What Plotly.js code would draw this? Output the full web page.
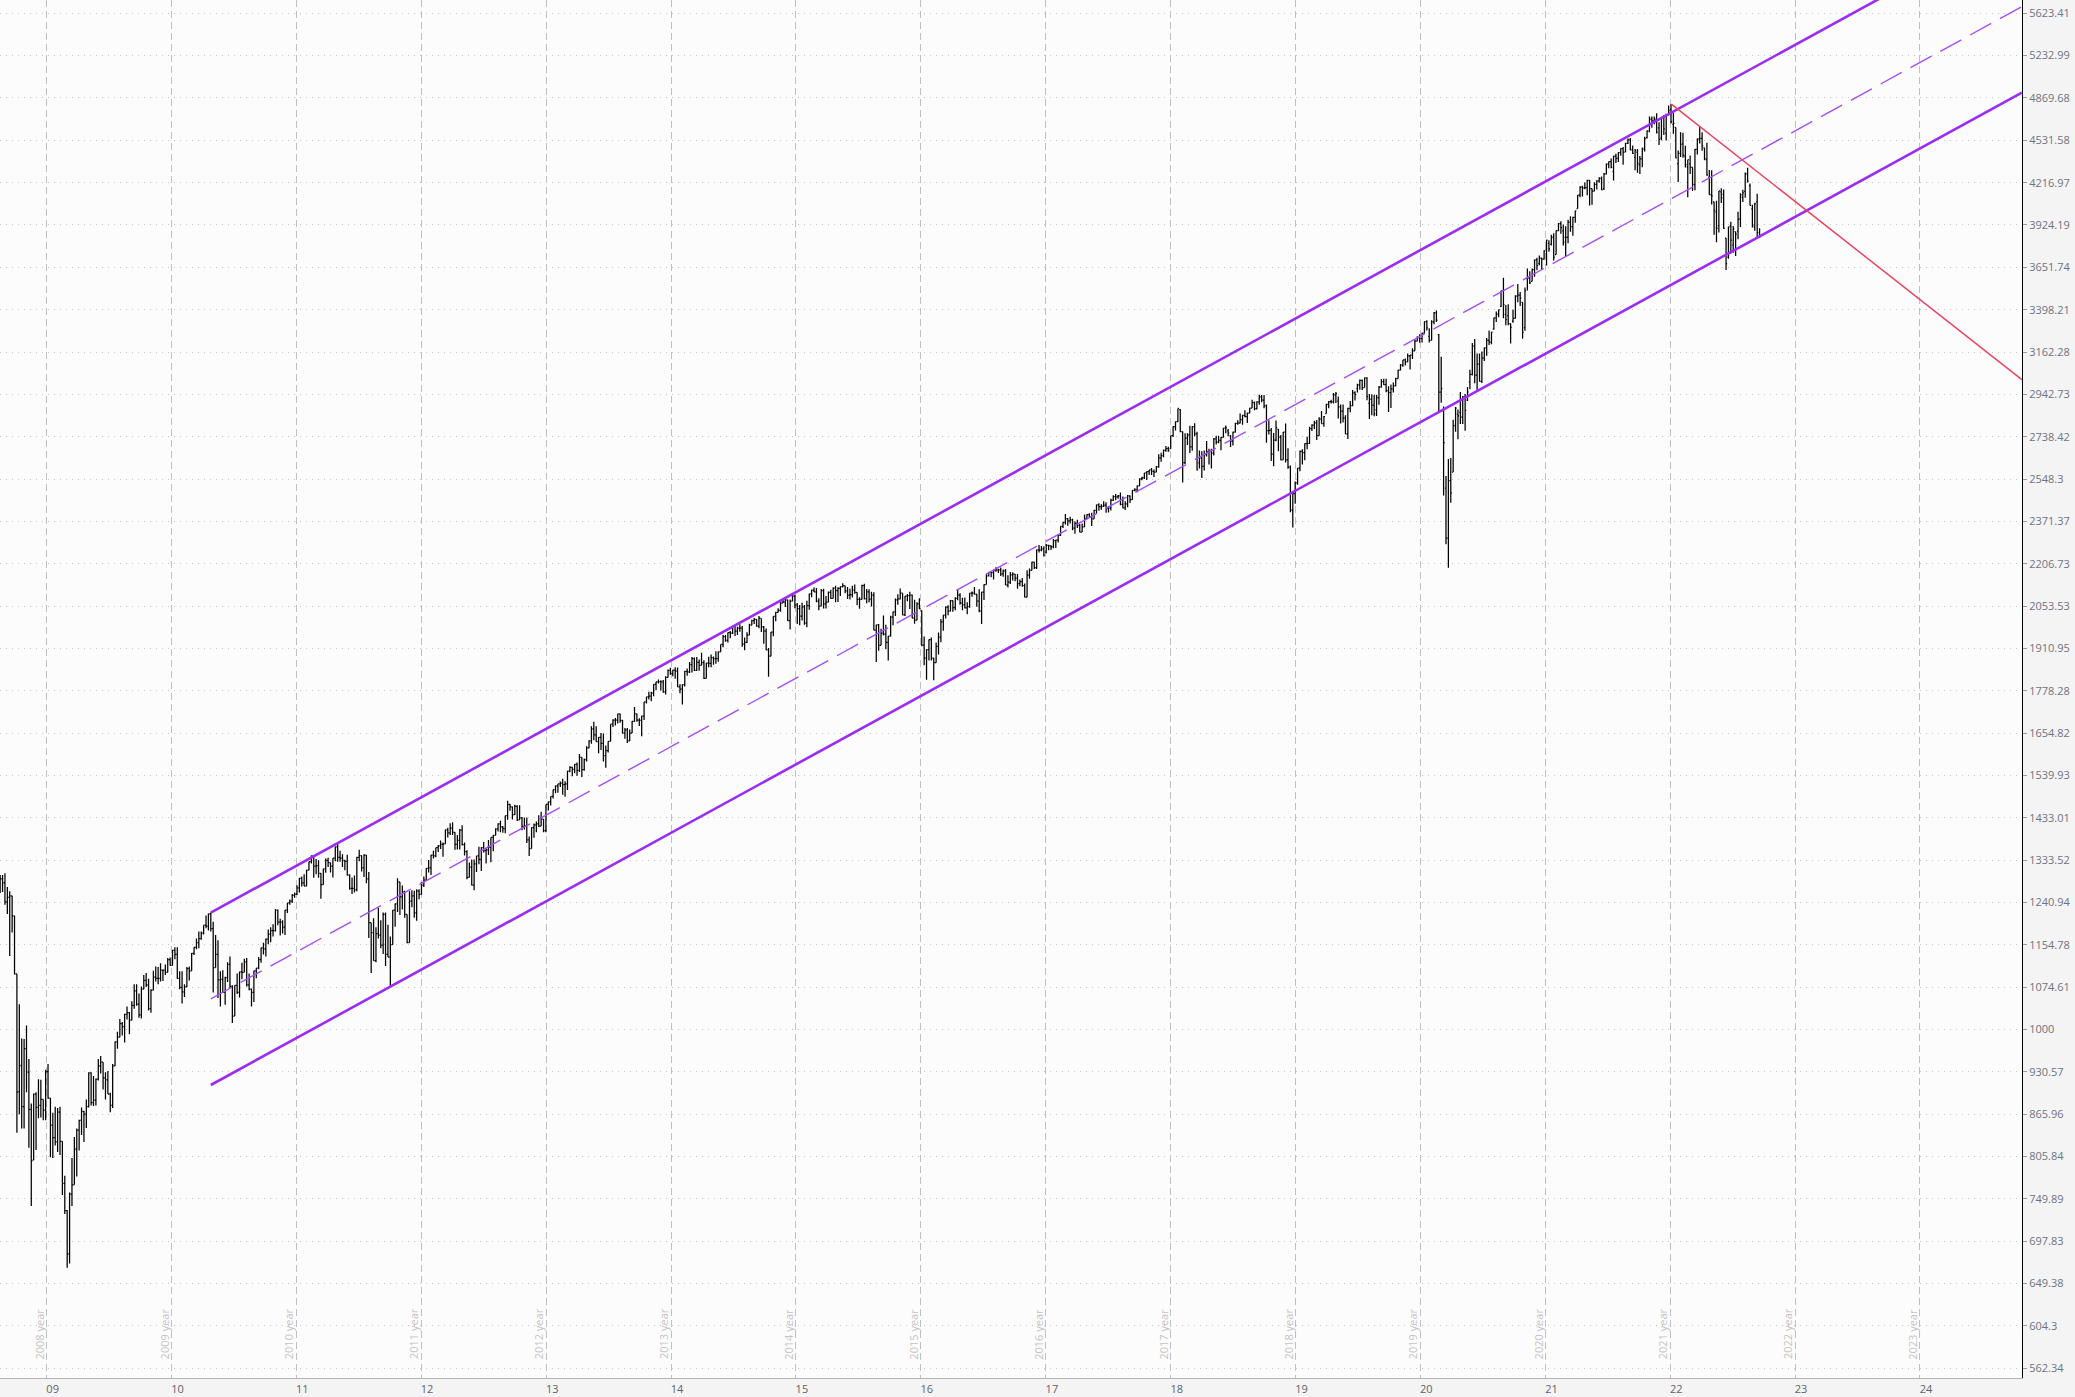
<!DOCTYPE html>
<html><head><meta charset="utf-8">
<script src="https://cdn.plot.ly/plotly-3.0.1.min.js"></script>
<style>html,body{margin:0;padding:0;background:#f4f4f4}#chart{width:2075px;height:1397px}</style>
</head><body><div id="chart"></div>
<script>
// Weekly S&P 500 bars, [open, high, low, close], one row per week (weeks start Monday)
const firstWeek = [2008, 7, 11]; // 2008-08-11
const wk2008 = [[1296,1313,1283,1298],[1298,1300,1261,1292],[1292,1300,1263,1283],[1283,1304,1236,1242],[1242,1274,1217,1252],[1252,1265,1133,1255],[1255,1255,1179,1213],[1213,1213,1098,1099],[1099,1099,839,899],[900,1044,866,940],[941,985,845,877],[877,984,845,968],[968,1007,899,930],[930,951,818,873],[873,882,741,800],[801,897,801,896],[896,899,815,876],[876,919,860,879],[879,918,861,888],[888,888,857,872],[872,934,857,931]];
const wk2009 = [[931,943,889,890],[890,890,805,850],[850,868,804,832],[832,877,821,826],[826,875,812,869],[869,877,808,827],[827,827,755,770],[770,780,731,735],[735,736,667,683],[683,758,672,756],[756,804,741,768],[768,833,768,816],[816,845,779,843],[843,858,814,857],[857,876,836,870],[870,871,826,866],[866,888,846,877],[877,930,876,929],[929,930,879,883],[883,924,878,887],[887,920,879,919],[919,951,917,940],[940,956,928,946],[946,946,903,921],[921,930,888,918],[918,932,896,896],[896,898,869,879],[879,943,875,940],[940,980,940,979],[979,996,968,987],[987,1018,987,1010],[1010,1013,990,1005],[1005,1027,978,1026],[1026,1040,1017,1029],[1029,1030,992,1016],[1016,1049,1016,1042],[1042,1080,1036,1068],[1068,1080,1041,1044],[1044,1063,1020,1025],[1025,1076,1019,1071],[1071,1097,1071,1087],[1087,1101,1075,1079],[1079,1090,1033,1036],[1036,1071,1029,1069],[1069,1105,1069,1093],[1093,1113,1085,1091],[1091,1112,1080,1091],[1091,1119,1085,1106],[1106,1107,1086,1106],[1106,1117,1097,1102],[1102,1129,1102,1126],[1126,1130,1115,1115]];
const wk2010 = [[1115,1145,1115,1144],[1144,1150,1127,1136],[1136,1150,1090,1091],[1091,1104,1071,1074],[1074,1104,1045,1066],[1066,1080,1057,1075],[1075,1112,1075,1109],[1109,1113,1087,1105],[1105,1139,1105,1138],[1138,1150,1135,1150],[1150,1167,1146,1159],[1159,1181,1148,1167],[1167,1181,1165,1178],[1178,1194,1175,1194],[1194,1214,1188,1192],[1192,1218,1183,1217],[1217,1220,1181,1187],[1187,1201,1065,1111],[1111,1174,1111,1136],[1136,1164,1055,1088],[1088,1104,1040,1089],[1089,1106,1065,1065],[1065,1094,1043,1092],[1092,1121,1084,1117],[1117,1132,1073,1076],[1076,1078,1011,1023],[1023,1078,1023,1078],[1078,1100,1062,1065],[1065,1103,1056,1103],[1103,1120,1089,1102],[1102,1128,1102,1122],[1122,1129,1076,1079],[1079,1100,1069,1071],[1071,1072,1040,1065],[1065,1105,1048,1105],[1105,1110,1091,1110],[1110,1131,1108,1126],[1126,1149,1120,1149],[1149,1159,1136,1147],[1147,1167,1132,1166],[1166,1185,1156,1176],[1176,1190,1160,1183],[1183,1196,1171,1183],[1183,1227,1181,1225],[1225,1226,1194,1200],[1200,1207,1173,1200],[1200,1204,1177,1190],[1190,1225,1174,1225],[1225,1240,1219,1240],[1240,1247,1236,1244],[1244,1259,1240,1256],[1256,1262,1251,1258]];
const wk2011 = [[1258,1278,1257,1272],[1272,1294,1262,1293],[1293,1297,1275,1283],[1283,1302,1276,1276],[1276,1312,1276,1311],[1311,1330,1311,1330],[1330,1344,1326,1343],[1343,1343,1294,1320],[1320,1336,1302,1321],[1321,1333,1294,1304],[1304,1304,1249,1279],[1279,1314,1279,1314],[1314,1337,1305,1333],[1333,1339,1318,1328],[1328,1328,1306,1320],[1320,1338,1295,1338],[1338,1364,1331,1364],[1364,1371,1330,1340],[1340,1355,1330,1338],[1338,1347,1318,1333],[1333,1334,1311,1331],[1331,1346,1299,1300],[1300,1302,1268,1271],[1271,1295,1259,1271],[1271,1299,1262,1268],[1268,1341,1265,1340],[1340,1357,1331,1344],[1344,1344,1308,1316],[1316,1347,1296,1345],[1345,1345,1282,1292],[1292,1307,1168,1199],[1199,1199,1101,1179],[1179,1208,1124,1124],[1124,1190,1121,1177],[1177,1230,1167,1174],[1174,1204,1148,1154],[1154,1220,1137,1216],[1216,1220,1114,1136],[1136,1195,1131,1131],[1131,1171,1075,1155],[1155,1225,1155,1225],[1225,1239,1191,1238],[1238,1293,1221,1285],[1285,1285,1215,1253],[1253,1277,1226,1264],[1264,1266,1209,1216],[1216,1216,1158,1159],[1159,1265,1159,1244],[1244,1267,1231,1255],[1255,1266,1209,1219],[1219,1269,1203,1265],[1265,1269,1248,1258]];
const wk2012 = [[1258,1285,1258,1278],[1278,1297,1274,1289],[1289,1315,1289,1315],[1315,1334,1306,1316],[1316,1345,1300,1345],[1345,1355,1337,1343],[1343,1362,1340,1362],[1362,1368,1352,1366],[1366,1379,1359,1370],[1370,1374,1341,1371],[1371,1405,1371,1404],[1404,1409,1386,1397],[1397,1420,1392,1408],[1408,1422,1392,1398],[1398,1398,1357,1370],[1370,1392,1358,1379],[1379,1406,1358,1403],[1403,1415,1367,1369],[1369,1374,1344,1353],[1353,1356,1291,1295],[1295,1328,1295,1318],[1318,1335,1277,1278],[1278,1335,1267,1325],[1325,1343,1307,1343],[1343,1364,1324,1335],[1335,1363,1309,1362],[1362,1375,1351,1355],[1355,1361,1326,1357],[1357,1380,1345,1363],[1363,1386,1329,1386],[1386,1392,1354,1391],[1391,1408,1391,1406],[1406,1420,1400,1418],[1418,1426,1398,1411],[1411,1413,1397,1407],[1407,1438,1396,1438],[1438,1475,1428,1466],[1466,1467,1450,1460],[1460,1461,1429,1441],[1441,1465,1440,1461],[1461,1464,1425,1428],[1428,1464,1428,1433],[1433,1435,1403,1412],[1412,1434,1405,1414],[1414,1434,1373,1380],[1380,1388,1343,1360],[1360,1410,1360,1409],[1409,1419,1385,1416],[1416,1424,1398,1418],[1418,1439,1411,1413],[1413,1448,1413,1430],[1430,1430,1398,1402],[1402,1466,1398,1466]];
const wk2013 = [[1466,1473,1451,1472],[1472,1486,1463,1486],[1486,1503,1481,1503],[1503,1514,1494,1513],[1513,1518,1495,1518],[1518,1524,1510,1520],[1520,1531,1490,1516],[1516,1525,1485,1518],[1518,1552,1502,1551],[1551,1564,1548,1561],[1561,1563,1538,1556],[1556,1570,1546,1569],[1569,1574,1539,1553],[1553,1597,1549,1588],[1588,1588,1536,1555],[1555,1585,1552,1582],[1582,1618,1577,1614],[1614,1635,1613,1633],[1633,1674,1625,1667],[1667,1687,1635,1650],[1650,1674,1631,1631],[1631,1644,1599,1643],[1643,1655,1608,1626],[1626,1654,1577,1593],[1593,1620,1560,1606],[1606,1632,1601,1632],[1632,1680,1632,1680],[1680,1694,1672,1692],[1692,1698,1676,1692],[1692,1710,1682,1710],[1710,1710,1684,1691],[1691,1692,1654,1655],[1655,1669,1639,1664],[1664,1669,1627,1633],[1633,1665,1633,1655],[1655,1689,1655,1688],[1688,1730,1687,1710],[1710,1711,1687,1692],[1692,1697,1675,1691],[1691,1704,1646,1703],[1703,1745,1692,1745],[1745,1760,1740,1760],[1760,1775,1752,1762],[1762,1775,1747,1771],[1771,1798,1762,1798],[1798,1806,1780,1805],[1805,1813,1800,1806],[1806,1810,1779,1805],[1805,1811,1772,1775],[1775,1823,1767,1819],[1819,1844,1819,1841],[1841,1849,1827,1831]];
const wk2014 = [[1831,1843,1823,1842],[1842,1851,1815,1839],[1839,1850,1790,1790],[1790,1798,1771,1783],[1783,1798,1737,1797],[1797,1840,1791,1838],[1838,1847,1824,1836],[1836,1867,1833,1859],[1859,1883,1834,1878],[1878,1882,1839,1841],[1841,1883,1839,1866],[1866,1875,1840,1857],[1857,1897,1857,1865],[1865,1873,1814,1816],[1816,1865,1816,1864],[1864,1884,1851,1863],[1863,1891,1851,1881],[1881,1885,1859,1878],[1878,1902,1862,1878],[1878,1901,1868,1900],[1900,1924,1900,1924],[1924,1955,1915,1950],[1950,1955,1933,1937],[1937,1963,1930,1963],[1963,1968,1944,1961],[1961,1985,1958,1985],[1985,1985,1952,1968],[1968,1983,1955,1978],[1978,1991,1966,1978],[1978,1985,1916,1925],[1925,1947,1905,1931],[1931,1964,1929,1955],[1955,1993,1955,1988],[1988,2006,1988,2003],[2003,2012,1992,2008],[2008,2008,1983,1985],[1985,2019,1978,2011],[2011,2011,1965,1982],[1982,1985,1926,1968],[1968,1977,1906,1906],[1906,1912,1821,1886],[1886,1965,1886,1965],[1965,2018,1951,2018],[2018,2034,2001,2032],[2032,2046,2031,2039],[2039,2071,2034,2064],[2064,2076,2064,2068],[2068,2079,2050,2075],[2075,2076,2002,2003],[2003,2077,1973,2071],[2071,2094,2070,2089],[2089,2093,2046,2058]];
const wk2015 = [[2058,2064,1992,2045],[2045,2057,1988,2019],[2019,2065,2004,2051],[2051,2057,1989,1995],[1995,2072,1981,2055],[2055,2097,2041,2097],[2097,2111,2085,2110],[2110,2119,2103,2104],[2104,2118,2067,2071],[2071,2081,2039,2053],[2053,2114,2053,2108],[2108,2115,2045,2061],[2061,2089,2045,2067],[2067,2105,2067,2102],[2102,2111,2079,2081],[2081,2120,2081,2117],[2117,2126,2067,2108],[2108,2120,2068,2116],[2116,2123,2089,2123],[2123,2135,2119,2126],[2126,2126,2099,2107],[2107,2121,2078,2092],[2092,2115,2077,2094],[2094,2126,2084,2110],[2110,2130,2097,2102],[2102,2102,2056,2077],[2077,2085,2044,2077],[2077,2129,2077,2126],[2126,2133,2077,2080],[2080,2114,2063,2104],[2104,2113,2067,2078],[2078,2104,2052,2092],[2092,2102,1971,1971],[1971,1989,1867,1989],[1989,1992,1903,1921],[1921,1976,1921,1961],[1961,2021,1953,1958],[1958,1989,1908,1931],[1931,1952,1872,1951],[1951,2020,1950,2015],[2015,2034,1988,2033],[2033,2080,2019,2075],[2075,2095,2058,2079],[2079,2116,2077,2099],[2099,2099,2022,2023],[2023,2089,2019,2089],[2089,2096,2070,2090],[2090,2104,2043,2092],[2092,2094,2012,2012],[2012,2076,1993,2005],[2005,2067,2005,2061],[2061,2081,2043,2044]];
const wk2016 = [[2038,2038,1918,1922],[1922,1950,1857,1880],[1880,1908,1812,1907],[1907,1940,1872,1940],[1940,1947,1872,1880],[1880,1881,1810,1865],[1865,1930,1865,1918],[1918,1963,1891,1948],[1948,2009,1931,1999],[1999,2022,1969,2022],[2022,2053,2011,2050],[2050,2056,2022,2036],[2036,2075,2035,2073],[2073,2073,2034,2048],[2048,2085,2039,2081],[2081,2111,2074,2092],[2092,2099,2058,2065],[2065,2083,2039,2058],[2058,2084,2045,2047],[2047,2067,2025,2052],[2052,2100,2048,2099],[2099,2105,2086,2099],[2099,2121,2093,2096],[2096,2096,2051,2071],[2071,2113,2032,2037],[2037,2104,1992,2103],[2103,2131,2075,2130],[2130,2169,2130,2162],[2162,2176,2159,2175],[2175,2177,2157,2174],[2174,2183,2148,2183],[2183,2194,2177,2184],[2184,2188,2172,2184],[2184,2193,2161,2169],[2169,2185,2158,2180],[2180,2187,2128,2128],[2128,2164,2119,2139],[2139,2176,2132,2165],[2165,2175,2145,2168],[2168,2169,2142,2153],[2153,2169,2115,2133],[2133,2148,2124,2141],[2141,2154,2122,2126],[2126,2134,2084,2085],[2085,2182,2085,2164],[2164,2189,2151,2182],[2182,2214,2182,2213],[2213,2214,2187,2192],[2192,2260,2187,2259],[2259,2278,2249,2258],[2258,2274,2254,2263],[2263,2273,2234,2239]];
const wk2017 = [[2251,2282,2245,2277],[2277,2279,2258,2275],[2275,2277,2259,2271],[2271,2301,2266,2295],[2295,2299,2267,2297],[2297,2319,2288,2316],[2316,2352,2313,2351],[2351,2368,2345,2367],[2367,2401,2359,2383],[2383,2385,2354,2373],[2373,2390,2363,2378],[2378,2382,2336,2344],[2344,2371,2322,2363],[2363,2378,2345,2355],[2355,2361,2328,2329],[2329,2363,2329,2349],[2349,2399,2349,2384],[2384,2400,2380,2399],[2399,2404,2386,2391],[2391,2406,2353,2382],[2382,2418,2382,2416],[2416,2440,2403,2439],[2439,2446,2415,2432],[2432,2441,2419,2433],[2433,2454,2430,2438],[2438,2450,2406,2423],[2423,2434,2407,2425],[2425,2464,2416,2459],[2459,2479,2455,2473],[2473,2484,2458,2472],[2472,2480,2464,2477],[2477,2491,2437,2441],[2441,2474,2425,2426],[2426,2454,2418,2443],[2443,2480,2429,2477],[2477,2478,2447,2461],[2461,2501,2460,2500],[2500,2509,2496,2502],[2502,2520,2492,2519],[2519,2552,2518,2549],[2549,2558,2543,2553],[2553,2575,2548,2575],[2575,2582,2544,2581],[2581,2588,2566,2588],[2588,2597,2566,2582],[2582,2590,2557,2579],[2579,2605,2578,2602],[2602,2658,2598,2642],[2642,2665,2624,2652],[2652,2680,2645,2675],[2675,2695,2669,2683],[2683,2692,2669,2674]];
const wk2018 = [[2683,2743,2683,2743],[2743,2787,2737,2786],[2786,2810,2768,2810],[2810,2873,2808,2873],[2867,2870,2759,2762],[2762,2763,2533,2620],[2620,2754,2614,2732],[2732,2755,2700,2747],[2747,2790,2664,2691],[2691,2787,2674,2786],[2786,2802,2741,2752],[2752,2761,2586,2588],[2619,2675,2594,2641],[2641,2672,2553,2604],[2604,2675,2586,2656],[2656,2718,2648,2670],[2670,2683,2612,2670],[2670,2683,2594,2663],[2663,2732,2652,2728],[2728,2743,2702,2713],[2713,2743,2708,2721],[2721,2737,2676,2735],[2735,2779,2735,2779],[2779,2791,2754,2780],[2766,2775,2740,2755],[2742,2746,2691,2718],[2718,2761,2698,2760],[2760,2804,2758,2801],[2801,2816,2795,2802],[2802,2848,2800,2819],[2819,2841,2795,2840],[2840,2864,2830,2833],[2833,2854,2803,2850],[2850,2877,2850,2875],[2875,2916,2875,2902],[2902,2907,2864,2872],[2872,2908,2868,2905],[2905,2941,2891,2930],[2930,2940,2904,2914],[2914,2940,2874,2886],[2886,2893,2710,2767],[2767,2816,2749,2768],[2768,2779,2628,2659],[2659,2756,2604,2723],[2723,2815,2717,2781],[2773,2775,2671,2736],[2736,2746,2631,2633],[2633,2760,2633,2760],[2760,2800,2621,2633],[2633,2685,2593,2600],[2600,2608,2409,2417],[2417,2488,2347,2486],[2486,2538,2444,2532]];
const wk2019 = [[2532,2597,2524,2596],[2596,2675,2582,2671],[2671,2681,2612,2665],[2665,2708,2631,2707],[2707,2738,2681,2708],[2708,2785,2705,2776],[2776,2797,2765,2793],[2793,2814,2774,2804],[2804,2817,2723,2743],[2743,2831,2743,2822],[2822,2861,2800,2800],[2800,2836,2785,2834],[2848,2896,2848,2893],[2893,2910,2874,2907],[2907,2916,2898,2905],[2905,2949,2898,2940],[2940,2954,2900,2946],[2909,2932,2825,2881],[2881,2892,2801,2860],[2860,2892,2805,2826],[2826,2840,2750,2752],[2752,2876,2728,2873],[2873,2910,2855,2887],[2887,2964,2884,2950],[2950,2958,2912,2942],[2971,2996,2952,2990],[2990,3018,2966,3014],[3014,3018,2964,2977],[2977,3028,2977,3026],[3026,3029,2914,2932],[2898,2945,2822,2919],[2919,2943,2840,2889],[2889,2940,2835,2847],[2866,2941,2836,2926],[2926,2985,2891,2979],[2979,3021,2977,3007],[3007,3022,2990,2992],[2992,3022,2953,2962],[2962,2983,2856,2952],[2952,2993,2875,2970],[2970,3003,2952,2986],[2986,3027,2984,3023],[3023,3069,3023,3067],[3067,3098,3066,3093],[3093,3120,3084,3120],[3120,3128,3091,3110],[3110,3154,3110,3141],[3141,3146,3070,3146],[3146,3182,3125,3169],[3169,3229,3169,3221],[3221,3248,3221,3240],[3240,3259,3212,3235]];
const wk2020 = [[3235,3267,3214,3265],[3265,3330,3264,3330],[3330,3338,3280,3295],[3248,3293,3214,3226],[3226,3337,3226,3328],[3328,3385,3315,3380],[3380,3394,3328,3338],[3257,3260,2855,2954],[2954,3137,2901,2972],[2863,2883,2478,2711],[2509,2562,2281,2305],[2305,2637,2192,2541],[2541,2641,2448,2489],[2579,2818,2579,2790],[2790,2880,2761,2875],[2846,2868,2727,2837],[2854,2955,2798,2831],[2831,2934,2798,2930],[2930,2945,2766,2864],[2914,2980,2910,2955],[3005,3068,2969,3044],[3044,3211,3038,3194],[3194,3233,2999,3041],[3041,3155,2965,3098],[3098,3155,3008,3009],[3009,3165,3000,3130],[3130,3186,3115,3185],[3185,3238,3142,3225],[3225,3280,3200,3216],[3216,3272,3204,3271],[3288,3352,3284,3351],[3351,3388,3328,3373],[3373,3399,3355,3397],[3418,3509,3413,3508],[3508,3588,3349,3427],[3371,3425,3310,3341],[3364,3429,3310,3319],[3319,3320,3209,3298],[3333,3398,3323,3348],[3348,3482,3348,3477],[3477,3550,3441,3483],[3483,3502,3419,3465],[3441,3441,3234,3270],[3296,3529,3279,3509],[3583,3645,3511,3585],[3585,3628,3550,3557],[3566,3644,3566,3638],[3638,3701,3594,3699],[3699,3712,3634,3663],[3675,3726,3665,3709],[3709,3712,3636,3703],[3703,3760,3700,3756]];
const wk2021 = [[3764,3827,3663,3824],[3803,3823,3750,3768],[3797,3860,3790,3841],[3844,3870,3694,3714],[3732,3887,3732,3887],[3887,3937,3883,3934],[3934,3950,3866,3907],[3885,3928,3789,3811],[3842,3915,3723,3842],[3842,3960,3805,3943],[3943,3983,3879,3913],[3913,3979,3853,3975],[3975,4020,3939,4020],[4035,4130,4035,4129],[4129,4191,4114,4185],[4185,4195,4118,4180],[4180,4218,4170,4181],[4181,4238,4128,4233],[4233,4236,4057,4174],[4174,4175,4062,4156],[4156,4219,4156,4204],[4204,4234,4168,4230],[4230,4255,4217,4247],[4247,4262,4165,4166],[4174,4286,4165,4281],[4281,4356,4275,4352],[4352,4372,4321,4370],[4370,4394,4321,4327],[4297,4415,4233,4412],[4412,4430,4360,4395],[4395,4441,4367,4437],[4437,4470,4414,4468],[4468,4480,4347,4442],[4442,4513,4442,4509],[4509,4546,4504,4535],[4535,4549,4455,4459],[4459,4492,4427,4433],[4403,4465,4306,4455],[4442,4466,4288,4357],[4348,4412,4279,4391],[4391,4475,4329,4471],[4463,4560,4447,4545],[4553,4608,4545,4605],[4605,4718,4595,4697],[4697,4719,4630,4683],[4683,4718,4657,4698],[4698,4744,4585,4595],[4628,4673,4495,4538],[4548,4713,4532,4712],[4710,4731,4572,4620],[4588,4740,4531,4726],[4733,4808,4726,4766]];
const wk2022 = [[4778,4819,4662,4677],[4655,4749,4582,4663],[4632,4632,4395,4398],[4356,4453,4222,4432],[4432,4595,4405,4500],[4505,4590,4400,4419],[4412,4490,4327,4349],[4332,4385,4114,4385],[4354,4416,4279,4329],[4328,4328,4157,4204],[4202,4466,4162,4463],[4463,4546,4424,4543],[4541,4637,4507,4546],[4547,4594,4451,4488],[4474,4475,4381,4392],[4385,4512,4267,4272],[4255,4308,4131,4132],[4131,4307,4063,4123],[4082,4082,3859,4024],[4013,4090,3810,3901],[3920,4158,3875,4158],[4152,4177,4074,4109],[4134,4168,3900,3901],[3838,3838,3636,3675],[3715,3913,3705,3912],[3920,3946,3738,3825],[3792,3918,3743,3899],[3880,3880,3722,3863],[3883,4013,3830,3962],[3965,4141,3911,4130],[4112,4167,4080,4145],[4155,4290,4111,4280],[4280,4325,4218,4228],[4195,4211,4057,4058],[4034,4062,3907,3924],[3910,4076,3886,4067],[4083,4139,3837,3873],[3849,3902,3838,3856]];

// Axis labels
const yTickLabels = ['562.34','604.3','649.38','697.83','749.89','805.84','865.96','930.57','1000','1074.61','1154.78','1240.94','1333.52','1433.01','1539.93','1654.82','1778.28','1910.95','2053.53','2206.73','2371.37','2548.3','2738.42','2942.73','3162.28','3398.21','3651.74','3924.19','4216.97','4531.58','4869.68','5232.99','5623.41'];
const xTickYears = ['2009','2010','2011','2012','2013','2014','2015','2016','2017','2018','2019','2020','2021','2022','2023','2024'];
const xTickLabels = ['09','10','11','12','13','14','15','16','17','18','19','20','21','22','23','24'];
const yearNames = ['2008 year','2009 year','2010 year','2011 year','2012 year','2013 year','2014 year','2015 year','2016 year','2017 year','2018 year','2019 year','2020 year','2021 year','2022 year','2023 year'];

// Trend channel (date, price) endpoints
const channelDates = ['2010-04-26', '2024-10-25'];
const channelUpper = [1219.8, 6582];
const channelMid = [1053.6, 5687];
const channelLower = [910, 4914];
const redDates = ['2022-01-04', '2024-10-25'];
const redPrices = [4818.6, 3017];

const bars = [].concat(wk2008, wk2009, wk2010, wk2011, wk2012, wk2013, wk2014, wk2015, wk2016, wk2017, wk2018, wk2019, wk2020, wk2021, wk2022);
const t0 = Date.UTC(firstWeek[0], firstWeek[1], firstWeek[2]);
const dates = bars.map((_, i) => new Date(t0 + i * 7 * 86400000).toISOString().slice(0, 10));

const traces = [
  {type: 'ohlc', x: dates,
   open: bars.map(b => b[0]), high: bars.map(b => b[1]), low: bars.map(b => b[2]), close: bars.map(b => b[3]),
   increasing: {line: {color: '#000000', width: 1.25}}, decreasing: {line: {color: '#000000', width: 1.25}},
   tickwidth: 0.45, hoverinfo: 'skip'},
  {type: 'scatter', mode: 'lines', x: channelDates, y: channelUpper, line: {color: '#9a2cf5', width: 2.6}, hoverinfo: 'skip'},
  {type: 'scatter', mode: 'lines', x: channelDates, y: channelLower, line: {color: '#9a2cf5', width: 2.6}, hoverinfo: 'skip'},
  {type: 'scatter', mode: 'lines', x: channelDates, y: channelMid, line: {color: '#a64df5', width: 1.4, dash: '24px,10px'}, hoverinfo: 'skip'},
  {type: 'scatter', mode: 'lines', x: redDates, y: redPrices, line: {color: '#e8455c', width: 1.5}, hoverinfo: 'skip'}
];

const layout = {
  width: 2075, height: 1397,
  margin: {l: 0, r: 53, t: 0, b: 19, pad: 0},
  paper_bgcolor: '#f4f4f4', plot_bgcolor: '#fcfcfc',
  showlegend: false, hovermode: false,
  font: {family: 'Open Sans, sans-serif', size: 11, color: '#6f7282'},
  xaxis: {
    type: 'date', range: ['2008-08-17 13:00', '2024-10-25 10:00'],
    rangeslider: {visible: false},
    tickmode: 'array', tickvals: xTickYears.map(y => y + '-01-01'), ticktext: xTickLabels,
    showgrid: true, gridcolor: '#c0c0c0', gridwidth: 1, griddash: '7px,4px',
    ticks: '', showline: true, linecolor: '#b5b5b5', linewidth: 1, zeroline: false,
    ticklabelshift: 6, ticklabelstandoff: 1,
    tickfont: {family: 'Open Sans, sans-serif', size: 11, color: '#5f626e'}
  },
  yaxis: {
    type: 'log', side: 'right', range: [2.7428, 3.7598],
    tickmode: 'array', tickvals: yTickLabels.map(Number), ticktext: yTickLabels,
    showgrid: true, gridcolor: '#c6c6c6', gridwidth: 1, griddash: '1px,5px',
    ticks: 'outside', ticklen: 4, tickcolor: '#9a9a9a', tickwidth: 1,
    showline: true, linecolor: '#000000', linewidth: 1, zeroline: false,
    tickfont: {family: 'Open Sans, sans-serif', size: 11, color: '#6f7282'}
  },
  annotations: yearNames.map((name, i) => ({
    text: name, x: xTickYears[i] + '-01-01', xref: 'x', xshift: -7,
    y: 0.032, yref: 'paper', xanchor: 'center', yanchor: 'middle',
    textangle: -90, showarrow: false,
    font: {family: 'Open Sans, sans-serif', size: 11, color: '#c4c4c4'}
  }))
};

Plotly.newPlot('chart', traces, layout, {displayModeBar: false, staticPlot: true});
</script>
</body></html>
